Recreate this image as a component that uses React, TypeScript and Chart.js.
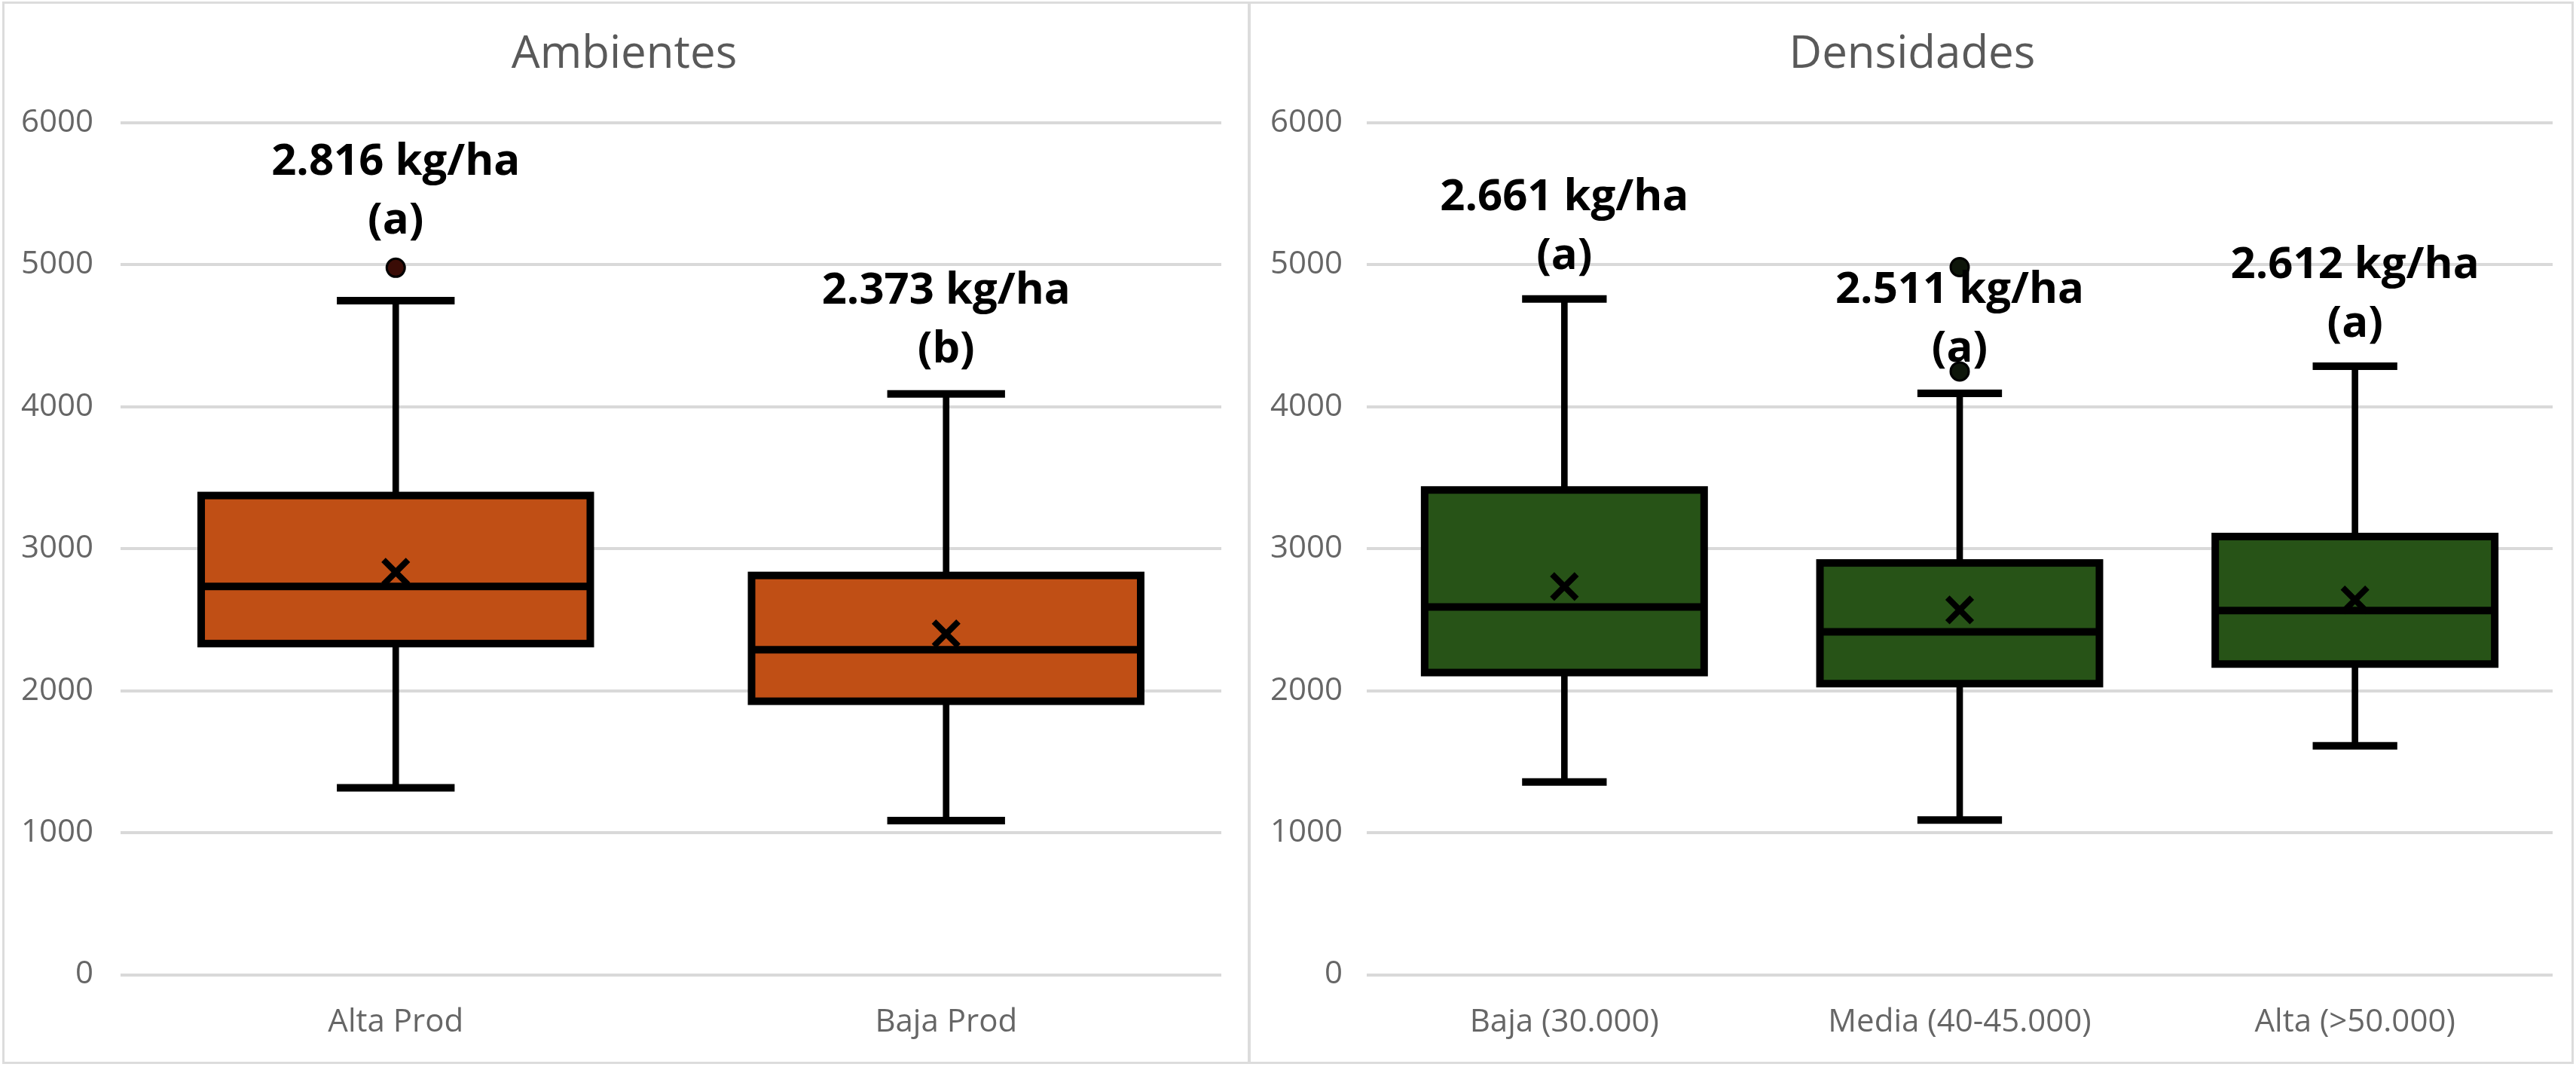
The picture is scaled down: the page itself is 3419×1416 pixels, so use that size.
import React, { useEffect, useRef } from 'react';
import { Chart, registerables } from 'chart.js';

Chart.register(...registerables);

// ---------- data: Ambientes ----------
const ambCategories = ['Alta Prod', 'Baja Prod'];
const ambMin = [1316, 1085];
const ambQ1 = [2332, 1926];
const ambMedian = [2734, 2289];
const ambQ3 = [3375, 2812];
const ambMax = [4748, 4091];
const ambMean = [2835, 2401];
const ambOutliers = [{ x: 'Alta Prod', y: 4979 }];
const ambMeanText = ['2.816 kg/ha', '2.373 kg/ha'];
const ambGroup = ['(a)', '(b)'];
const ambLabelAt = [5634, 4726];

// ---------- data: Densidades ----------
const denCategories = ['Baja (30.000)', 'Media (40-45.000)', 'Alta (>50.000)'];
const denMin = [1357, 1090, 1612];
const denQ1 = [2128, 2050, 2188];
const denMedian = [2590, 2415, 2565];
const denQ3 = [3414, 2900, 3086];
const denMax = [4759, 4095, 4286];
const denMean = [2734, 2569, 2640];
const denOutliers = [
  { x: 'Media (40-45.000)', y: 4984 },
  { x: 'Media (40-45.000)', y: 4249 },
];
const denMeanText = ['2.661 kg/ha', '2.511 kg/ha', '2.612 kg/ha'];
const denGroup = ['(a)', '(a)', '(a)'];
const denLabelAt = [5385, 4731, 4907];

// ---------- axis ----------
const yMin = 0;
const yMax = 6000;
const yStep = 1000;

const FONT = '"Open Sans", "DejaVu Sans", sans-serif';
const AXIS_COLOR = '#666666';
const BOX_BORDER = 10;

function labelPlugin(texts: string[], groups: string[], at: number[]) {
  return {
    id: 'meanLabels',
    afterDatasetsDraw(chart: any) {
      const { ctx, scales } = chart;
      const x = scales.x;
      const y = scales.y;
      ctx.save();
      ctx.font = `bold 58px ${FONT}`;
      ctx.fillStyle = '#000000';
      ctx.textAlign = 'center';
      ctx.textBaseline = 'alphabetic';
      texts.forEach((t, i) => {
        const px = x.getPixelForValue(i);
        const py = y.getPixelForValue(at[i]);
        ctx.fillText(t, px, py);
        ctx.fillText(groups[i], px, py + 78);
      });
      ctx.restore();
    },
  };
}

function titlePlugin(text: string) {
  return {
    id: 'panelTitle',
    afterDraw(chart: any) {
      const { ctx } = chart;
      ctx.save();
      ctx.font = `normal 60px ${FONT}`;
      ctx.fillStyle = '#595959';
      ctx.textAlign = 'center';
      ctx.textBaseline = 'middle';
      ctx.fillText(text, chart.width / 2, 73);
      ctx.restore();
    },
  };
}

// outline of the box drawn centred on the quartile edges (as in Excel)
const boxOutlinePlugin = {
  id: 'boxOutline',
  afterDatasetDraw(chart: any, args: any) {
    if (args.meta.label !== 'box') return;
    const { ctx } = chart;
    ctx.save();
    ctx.strokeStyle = '#000000';
    ctx.lineWidth = BOX_BORDER;
    ctx.lineJoin = 'miter';
    args.meta.data.forEach((el: any) => {
      const { x, y, base, width } = el.getProps(['x', 'y', 'base', 'width'], true);
      const top = Math.min(y, base);
      const h = Math.abs(base - y);
      ctx.strokeRect(x - width / 2, top, width, h);
    });
    ctx.restore();
  },
};

function makeConfig(p: {
  categories: string[];
  min: number[];
  q1: number[];
  median: number[];
  q3: number[];
  max: number[];
  mean: number[];
  outliers: { x: string; y: number }[];
  texts: string[];
  groups: string[];
  at: number[];
  title: string;
  fill: string;
  outlierFill: string;
  right: number;
  axisWidth: number;
  tickPad: number;
}) {
  const n = p.categories.length;
  const catWidth = (ctx: any) => ctx.chart.scales.x.width / n;
  const BOX_PCT = 0.707;
  return {
    type: 'bar',
    data: {
      labels: p.categories,
      datasets: [
        {
          type: 'bar',
          label: 'whisker',
          data: p.categories.map((_, i) => [p.min[i], p.max[i]]),
          backgroundColor: '#000000',
          borderWidth: 0,
          barThickness: 8,
          grouped: false,
          order: 6,
        },
        {
          type: 'bar',
          label: 'box',
          data: p.categories.map((_, i) => [p.q1[i], p.q3[i]]),
          backgroundColor: p.fill,
          borderWidth: 0,
          inflateAmount: 0,
          barPercentage: BOX_PCT,
          categoryPercentage: 1,
          grouped: false,
          order: 5,
        },
        {
          type: 'line',
          label: 'capTop',
          data: p.max,
          showLine: false,
          pointStyle: 'line',
          pointRadius: (ctx: any) => catWidth(ctx) * 0.107,
          pointBorderWidth: 10,
          pointBorderColor: '#000000',
          pointBackgroundColor: '#000000',
          order: 4,
        },
        {
          type: 'line',
          label: 'capBottom',
          data: p.min,
          showLine: false,
          pointStyle: 'line',
          pointRadius: (ctx: any) => catWidth(ctx) * 0.107,
          pointBorderWidth: 10,
          pointBorderColor: '#000000',
          pointBackgroundColor: '#000000',
          order: 4,
        },
        {
          type: 'line',
          label: 'median',
          data: p.median,
          showLine: false,
          pointStyle: 'line',
          pointRadius: (ctx: any) => (catWidth(ctx) * BOX_PCT) / 2,
          pointBorderWidth: 10,
          pointBorderColor: '#000000',
          pointBackgroundColor: '#000000',
          order: 3,
        },
        {
          type: 'line',
          label: 'mean',
          data: p.mean,
          showLine: false,
          pointStyle: 'crossRot',
          pointRadius: 23,
          pointBorderWidth: 8,
          pointBorderColor: '#000000',
          pointBackgroundColor: '#000000',
          order: 2,
        },
        {
          type: 'line',
          label: 'outliers',
          data: p.outliers,
          showLine: false,
          pointStyle: 'circle',
          pointRadius: 12,
          pointBorderWidth: 3,
          pointBorderColor: '#000000',
          pointBackgroundColor: p.outlierFill,
          order: 1,
        },
      ],
    },
    options: {
      responsive: false,
      maintainAspectRatio: false,
      animation: false,
      events: [],
      devicePixelRatio: 1,
      layout: { padding: { left: 0, right: p.right, top: 163, bottom: 0 } },
      plugins: {
        legend: { display: false },
        tooltip: { enabled: false },
        title: { display: false },
      },
      scales: {
        x: {
          grid: { display: false },
          border: { display: false },
          ticks: {
            color: AXIS_COLOR,
            font: { family: FONT, size: 42 },
            padding: 30,
            maxRotation: 0,
            autoSkip: false,
          },
          afterFit: (s: any) => {
            s.height = 122.5;
          },
        },
        y: {
          min: yMin,
          max: yMax,
          grid: { color: '#d9d9d9', lineWidth: 4, drawTicks: false },
          border: { display: false },
          ticks: {
            stepSize: yStep,
            color: AXIS_COLOR,
            font: { family: FONT, size: 42 },
            padding: p.tickPad,
            callback: (v: any) => String(v),
          },
          afterFit: (s: any) => {
            s.width = p.axisWidth;
          },
        },
      },
    },
    plugins: [boxOutlinePlugin, labelPlugin(p.texts, p.groups, p.at), titlePlugin(p.title)],
  } as any;
}

export default function App() {
  const leftRef = useRef<HTMLCanvasElement | null>(null);
  const rightRef = useRef<HTMLCanvasElement | null>(null);

  useEffect(() => {
    if (!leftRef.current || !rightRef.current) return;
    const c1 = new Chart(
      leftRef.current,
      makeConfig({
        categories: ambCategories,
        min: ambMin,
        q1: ambQ1,
        median: ambMedian,
        q3: ambQ3,
        max: ambMax,
        mean: ambMean,
        outliers: ambOutliers,
        texts: ambMeanText,
        groups: ambGroup,
        at: ambLabelAt,
        title: 'Ambientes',
        fill: '#C04F15',
        outlierFill: '#3a0c06',
        right: 36,
        axisWidth: 160,
        tickPad: 36,
      })
    );
    const c2 = new Chart(
      rightRef.current,
      makeConfig({
        categories: denCategories,
        min: denMin,
        q1: denQ1,
        median: denMedian,
        q3: denQ3,
        max: denMax,
        mean: denMean,
        outliers: denOutliers,
        texts: denMeanText,
        groups: denGroup,
        at: denLabelAt,
        title: 'Densidades',
        fill: '#275317',
        outlierFill: '#0e160a',
        right: 26,
        axisWidth: 157,
        tickPad: 32,
      })
    );
    return () => {
      c1.destroy();
      c2.destroy();
    };
  }, []);

  return (
    <div
      style={{
        position: 'absolute',
        left: 0,
        top: 0,
        width: 3419,
        height: 1416,
        background: '#ffffff',
        overflow: 'hidden',
      }}
    >
      <div
        style={{
          position: 'absolute',
          left: 3,
          top: 2,
          width: 1657,
          height: 1410,
          border: '3px solid #dcdcdc',
          boxSizing: 'border-box',
        }}
      />
      <div
        style={{
          position: 'absolute',
          left: 1656,
          top: 2,
          width: 1760,
          height: 1410,
          border: '3px solid #dcdcdc',
          boxSizing: 'border-box',
        }}
      />
      <canvas
        ref={leftRef}
        width={1657}
        height={1416}
        style={{ position: 'absolute', left: 0, top: 0, width: 1657, height: 1416 }}
      />
      <canvas
        ref={rightRef}
        width={1762}
        height={1416}
        style={{ position: 'absolute', left: 1657, top: 0, width: 1762, height: 1416 }}
      />
    </div>
  );
}
